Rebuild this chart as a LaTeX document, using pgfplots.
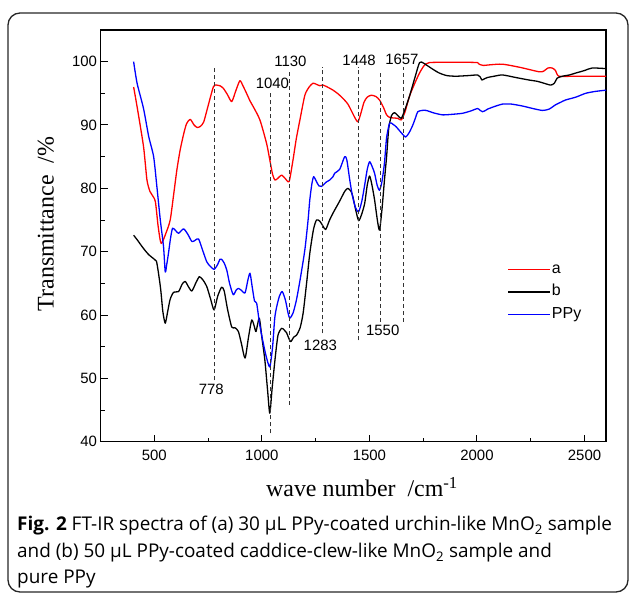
\documentclass[border=0pt]{standalone}
\usepackage{fontspec}
\usepackage{pgfplots}
\pgfplotsset{compat=1.18}
\newfontfamily\arial{Liberation Sans}
\newfontfamily\tnr{Liberation Serif}
\newfontfamily\opensans{Open Sans}

\definecolor{specred}{RGB}{255,0,0}
\definecolor{specblue}{RGB}{0,0,255}

\begin{document}
\begin{tikzpicture}[x=1bp,y=1bp]
\useasboundingbox (0,0) rectangle (629,594);
% outer frame
\draw[line width=1.3bp, black!85, rounded corners=12bp] (8,2) rectangle (628,581);

\begin{axis}[
    at={(100.5bp,152.3bp)}, anchor=south west,
    width=505.5bp, height=411.7bp, scale only axis,
    xmin=250, xmax=2600, ymin=40, ymax=105,
    xtick={500,1000,...,2500}, ytick={40,50,...,100},
    minor xtick={750,1250,1750,2250},
    minor ytick={45,55,...,95},
    tick align=inside, xtick pos=bottom, ytick pos=left,
    major tick length=7bp, minor tick length=4bp,
    axis line style={line width=1.2bp},
    tick style={line width=1bp, black},
    tick label style={font=\arial\fontsize{15}{18}\selectfont},
    xticklabel style={yshift=-5bp},
    /pgf/number format/assume math mode=true,
    /pgf/number format/1000 sep={},
    legend style={at={(axis cs:2142,68.5)}, anchor=north west, draw=none, fill=none,
        font=\arial\fontsize{16}{19}\selectfont, row sep=6.5bp, inner sep=0pt,
        nodes={inner sep=1bp, text height=11bp, text depth=3bp}},
    legend cell align=left,
    legend image code/.code={\draw[#1, line width=1.3bp] (0bp,0bp) -- (42bp,0bp);},
    every axis plot/.append style={line width=1.3bp, line join=round},
]
\addplot[specred, smooth, tension=0.4] coordinates {
(404,96.0) (420,92.9) (450,86.6) (466,81.3) (480,79.5) (489,79.0) (505,77.9) (518,74) (532,71.3)
(555,73) (574,75) (590,79) (605,82.9) (620,86) (636,88.5) (650,90.2) (667,90.9) (685,90)
(700,89.6) (715,89.8) (730,90.5) (750,93) (775,96.05) (790,96.3) (805,96.2) (821,95.8)
(840,94.8) (860,93.7) (880,95.5) (898,97.0) (912,96.2) (929,95.0) (945,93.8) (960,92.9)
(991,90.8) (1022,87.1) (1037,84.5) (1050,82.2) (1061,81.3) (1075,81.6) (1092,82.1) (1110,81.5)
(1127,81.1) (1145,84.5) (1160,87.8) (1177,90.8) (1200,94.7) (1220,96.0) (1238,96.6) (1255,96.4)
(1269,96.2) (1285,96.3) (1310,95.9) (1331,95.5) (1355,94.9) (1377,94.2) (1400,93.3) (1420,92.0)
(1435,91.0) (1447,90.5) (1460,91.8) (1475,93.6) (1490,94.4) (1509,94.7) (1530,94.5) (1547,93.95)
(1565,92.8) (1580,91.6) (1594,91.2) (1615,91.1) (1632,91.05) (1648,90.8) (1665,92) (1686,94.5)
(1710,96.5) (1733,98.2) (1755,99.4) (1779,99.85) (1850,99.9) (1950,99.9) (2003,99.85) (2010,99.6)
(2018,99.5) (2030,99.4) (2060,99.5) (2119,99.6) (2200,99.1) (2289,98.4) (2310,98.5) (2330,99.0)
(2350,99.0) (2365,98.6) (2381,97.7) (2450,97.7) (2600,97.7)
};
\addlegendentry{a}
\addplot[black, smooth, tension=0.4] coordinates {
(404,72.6) (420,71.9) (450,70.5) (475,69.5) (497,68.9) (510,68.5) (520,66.5) (530,64) (540,60.5)
(551,58.7) (562,60.5) (574,62.5) (590,63.6) (613,63.7) (630,64.9) (644,65.3) (660,64.4) (675,63.8)
(695,65.2) (710,66.05) (727,65.5) (744,64.5) (762,62.5) (778,60.8) (795,63) (813,64.4) (825,63.8)
(840,61) (860,58.1) (875,58.0) (891,57.4) (905,55.5) (922,53.2) (938,56.5) (953,59.2) (965,58.2)
(973,57.4) (988,59.5) (1000,56.5) (1014,52.9) (1027,48) (1037,44.5) (1048,48.5) (1061,52.9)
(1075,56.8) (1092,57.9) (1105,57.6) (1115,57.2) (1133,55.8) (1148,56.5) (1161,56.8) (1178,58)
(1192,60.3) (1208,65) (1223,69.75) (1240,73.5) (1254,75.0) (1270,74.8) (1285,74.0) (1297,73.5)
(1315,75.0) (1331,76.1) (1362,78.0) (1385,79.5) (1400,80.0) (1415,79.5) (1423,78.7) (1437,76.5)
(1450,74.9) (1463,75.8) (1478,77.6) (1490,80.5) (1501,81.95) (1512,80.5) (1524,78.2) (1537,75)
(1547,73.4) (1558,76.5) (1570,81.3) (1580,85) (1590,89.5) (1603,91.5) (1617,91.95) (1632,91.5)
(1648,91.05) (1665,92.4) (1686,94.5) (1710,97.3) (1733,99.85) (1750,99.8) (1764,99.5) (1795,98.8)
(1825,98.2) (1860,97.8) (1902,97.7) (1960,97.8) (2003,97.9) (2015,97.6) (2023,97.1) (2035,97.3)
(2049,97.5) (2080,97.7) (2119,97.9) (2180,97.5) (2242,97.1) (2280,96.9) (2311,96.6) (2343,96.3)
(2360,96.6) (2373,97.4) (2397,97.7) (2430,97.9) (2459,98.2) (2500,98.6) (2536,99.0) (2600,98.9)
};
\addlegendentry{b}
\addplot[specblue, smooth, tension=0.4] coordinates {
(404,100) (420,96.6) (450,92.6) (474,88.2) (497,85.0) (512,80.3) (528,75.0) (543,70.8) (551,66.8)
(558,68) (566,69.75) (575,72) (585,73.7) (600,73.3) (613,72.9) (636,73.6) (655,72.8) (675,71.6)
(690,71.8) (706,72.0) (725,70.2) (744,68.4) (760,67.7) (778,67.2) (795,68) (805,68.8) (813,68.8)
(825,68.2) (837,67.1) (850,65) (867,63.2) (880,63.9) (891,64.2) (905,63.9) (922,63.5) (935,65.5)
(945,66.6) (955,64.5) (966,62.2) (976,61.85) (990,58.5) (1007,55.5) (1020,53.5) (1037,51.8)
(1050,55) (1060,59.5) (1069,61.3) (1082,63.0) (1095,63.7) (1110,62.3) (1122,60.3) (1130,59.5)
(1145,60.3) (1161,62.4) (1180,66) (1200,70.3) (1215,75.0) (1223,78.2) (1233,80.8) (1241,81.85)
(1252,81.2) (1265,80.4) (1277,80.3) (1300,81.0) (1315,81.3) (1331,81.85) (1339,82.4) (1362,83.0)
(1385,85.0) (1395,84.5) (1408,81.5) (1420,79) (1435,77) (1450,76.3) (1465,78) (1478,80.5)
(1490,83) (1501,84.2) (1512,83.5) (1524,82.4) (1536,80.5) (1547,79.7) (1558,81) (1570,84.0)
(1580,88) (1594,90.3) (1610,90.1) (1625,89.7) (1645,88.9) (1668,88.1) (1685,88.8) (1702,90.0)
(1715,91.2) (1725,92.1) (1745,92.3) (1764,92.3) (1800,91.9) (1841,91.6) (1890,91.7) (1933,91.85)
(1970,92.2) (2003,92.6) (2015,92.3) (2026,92.1) (2040,92.3) (2049,92.5) (2080,92.9) (2119,93.3)
(2160,93.3) (2211,93.0) (2260,92.6) (2304,92.3) (2335,92.5) (2366,93.2) (2390,93.6) (2412,93.95)
(2460,94.4) (2505,95.0) (2550,95.3) (2600,95.5)
};
\addlegendentry{PPy}

% peak markers
\pgfplotsset{peak/.style={black!80, line width=0.9bp, dash pattern=on 4bp off 3bp, forget plot}}
\addplot[peak] coordinates {(778,49.7) (778,99.2)};
\addplot[peak] coordinates {(1040,41.3) (1040,95.3)};
\addplot[peak] coordinates {(1130,45.8) (1130,98.7)};
\addplot[peak] coordinates {(1283,57.1) (1283,99.2)};
\addplot[peak] coordinates {(1448,56.0) (1448,99.2)};
\addplot[peak] coordinates {(1550,58.9) (1550,98.3)};
\addplot[peak] coordinates {(1657,58.9) (1657,99.2)};

\begin{scope}[every node/.style={font=\arial\fontsize{15}{18}\selectfont, inner sep=1.5bp}]
\node[anchor=north] at (axis cs:765,49.3) {778};
\node[anchor=south] at (axis cs:1049,95.4) {1040};
\node[anchor=south] at (axis cs:1133,98.9) {1130};
\node[anchor=north] at (axis cs:1272,56.3) {1283};
\node[anchor=south] at (axis cs:1452,99.1) {1448};
\node[anchor=north] at (axis cs:1562,58.7) {1550};
\node[anchor=south] at (axis cs:1651,99.2) {1657};
\end{scope}
\end{axis}

% axis titles
\node[font=\tnr\fontsize{24}{28}\selectfont, anchor=base] at (362,97)
    {wave number~~/cm\textsuperscript{-1}};
\node[font=\tnr\fontsize{24}{28}\selectfont, anchor=base, rotate=90] at (53.5,370)
    {Transmittance~~/\%};

% caption
\begin{scope}[every node/.style={font=\opensans\fontsize{19}{22}\selectfont, anchor=base west, inner sep=0pt}]
\node at (17,63) {\textbf{Fig. 2} FT-IR spectra of (a) 30 µL PPy-coated urchin-like MnO\textsubscript{2} sample};
\node at (17,36) {and (b) 50 µL PPy-coated caddice-clew-like MnO\textsubscript{2} sample and};
\node at (17,10) {pure PPy};
\end{scope}
\end{tikzpicture}
\end{document}
